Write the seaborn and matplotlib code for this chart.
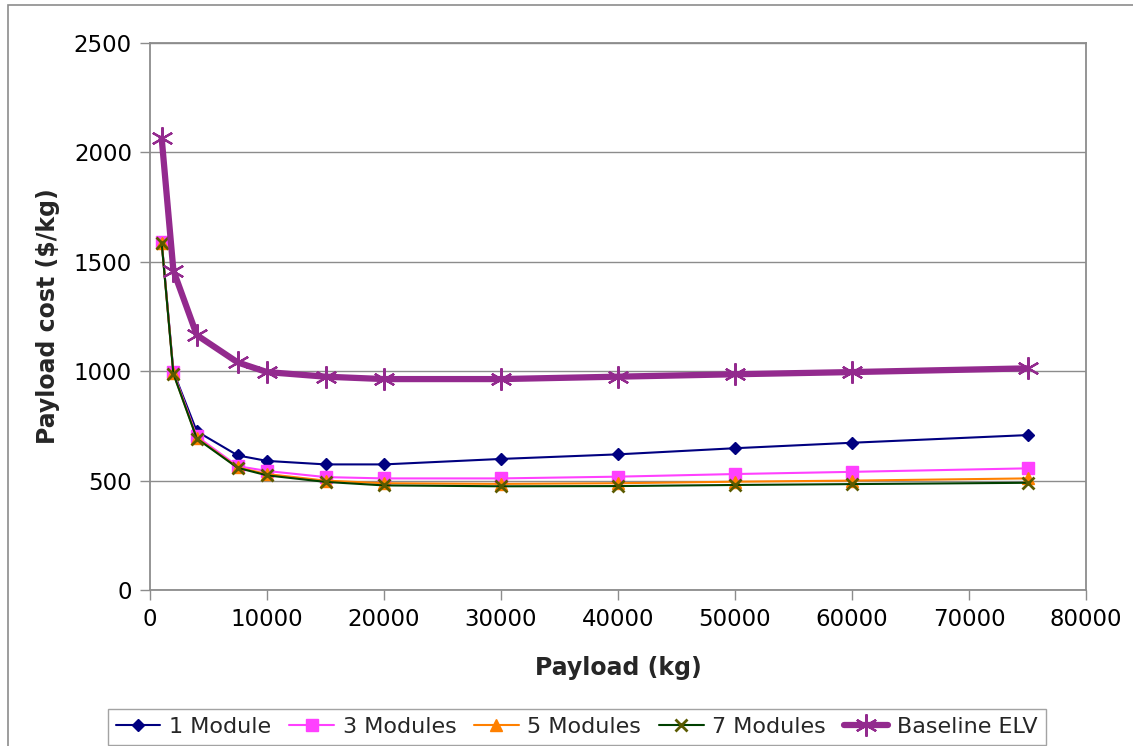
import matplotlib
matplotlib.use("Agg")
import matplotlib.pyplot as plt
import seaborn as sns
import pandas as pd
from matplotlib.patches import Rectangle

payload = [1000, 2000, 4000, 7500, 10000, 15000, 20000, 30000, 40000, 50000, 60000, 75000]
mod1 = [1590, 998, 725, 615, 590, 574, 574, 599, 620, 648, 673, 708]
mod3 = [1590, 995, 702, 566, 544, 516, 510, 510, 518, 530, 540, 556]
mod5 = [1588, 990, 695, 560, 530, 500, 488, 485, 488, 495, 500, 510]
mod7 = [1585, 988, 692, 558, 524, 494, 478, 474, 475, 480, 484, 490]
elv = [2064, 1460, 1165, 1040, 996, 975, 964, 964, 975, 986, 996, 1013]

series_names = ["1 Module", "3 Modules", "5 Modules", "7 Modules", "Baseline ELV"]
series_values = [mod1, mod3, mod5, mod7, elv]
x_ticks = [0, 10000, 20000, 30000, 40000, 50000, 60000, 70000, 80000]
y_ticks = [0, 500, 1000, 1500, 2000, 2500]

df = pd.concat([pd.DataFrame({"Payload": payload, "Cost": v, "Series": n})
                for n, v in zip(series_names, series_values)], ignore_index=True)

sns.set_theme(style="white")
plt.rcParams['font.family'] = ['DejaVu Sans']

styles = {
    "1 Module": dict(color="#000080", marker="D", markersize=6.5, lw=1.5, mfc="#000080", mec="#000080", mew=1),
    "3 Modules": dict(color="#FF40FF", marker="s", markersize=8.5, lw=1.5, mfc="#FF40FF", mec="#FF40FF", mew=1),
    "5 Modules": dict(color="#FF8000", marker="^", markersize=8, lw=1.5, mfc="#FF8000", mec="#FF8000", mew=1),
    "7 Modules": dict(color="#004000", marker="x", markersize=8, lw=1.5, mfc="#5A5A00", mec="#5A5A00", mew=2),
    "Baseline ELV": dict(color="#932A8E", marker=(6, 2, 0), markersize=16, lw=4.5, mfc="#932A8E", mec="#932A8E", mew=1.6),
}

fig = plt.figure(figsize=(11.33, 7.46), dpi=100)
ax = fig.add_axes([150/1133, 1-590/746, (1086-150)/1133, (590-43)/746])

for name in series_names:
    st = styles[name]
    sub = df[df["Series"] == name]
    sns.lineplot(data=sub, x="Payload", y="Cost", ax=ax, color=st["color"], lw=st["lw"],
                 marker=st["marker"], markersize=st["markersize"],
                 markerfacecolor=st["mfc"], markeredgecolor=st["mec"], markeredgewidth=st["mew"],
                 label=name, zorder=3 if name != "Baseline ELV" else 4)

ax.set_xlim(0, 80000)
ax.set_ylim(0, 2500)
ax.set_xticks(x_ticks)
ax.set_yticks(y_ticks)
ax.set_xticklabels([str(t) for t in x_ticks], fontsize=16.5)
ax.set_yticklabels([str(t) for t in y_ticks], fontsize=16.5)
ax.yaxis.grid(True, color="#8c8c8c", lw=1)
ax.xaxis.grid(False)
for s in ax.spines.values():
    s.set_color("#8c8c8c")
    s.set_linewidth(1.3)
ax.tick_params(axis="both", direction="out", length=7, width=1, color="#8c8c8c", pad=6, labelcolor="black")
ax.tick_params(axis="y", left=True)
ax.tick_params(axis="x", bottom=True)

ax.set_xlabel("Payload (kg)", fontsize=17, fontweight="bold", labelpad=18)
ax.set_ylabel("Payload cost ($/kg)", fontsize=17, fontweight="bold", labelpad=10)

handles, labels = ax.get_legend_handles_labels()
leg = fig.legend(handles, labels, loc="center", bbox_to_anchor=(577/1133, 1-727/746), ncol=5,
                 fontsize=16, frameon=True, fancybox=False, edgecolor="#8c8c8c",
                 handlelength=2.0, handletextpad=0.4, columnspacing=0.8, borderpad=0.35)
leg.get_frame().set_linewidth(1)
if ax.get_legend():
    ax.get_legend().remove()

fig.patches.append(Rectangle((8/1133, -0.1), 1.2, 1.1 - 5/746, transform=fig.transFigure,
                             fill=False, edgecolor="#8c8c8c", lw=1.2))

fig.savefig("out.png", dpi=100)
